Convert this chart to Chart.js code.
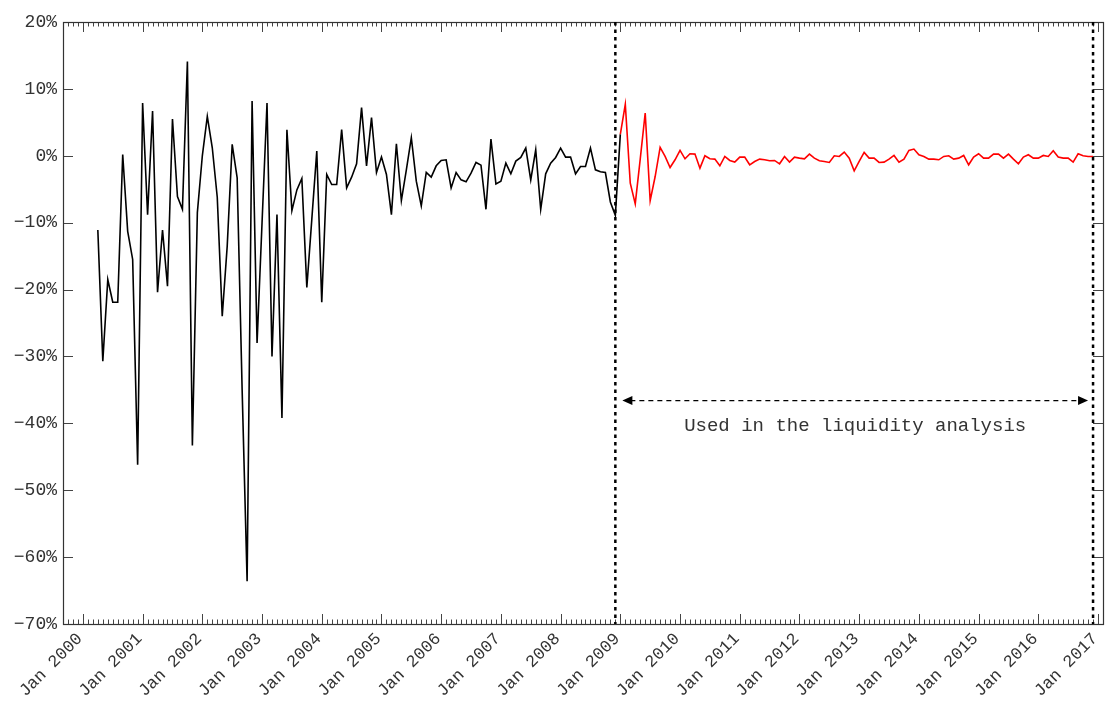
<!DOCTYPE html>
<html>
<head>
<meta charset="utf-8">
<style>
html, body { margin: 0; padding: 0; background: #fff; }
#wrap { width: 1105px; height: 701px; }
</style>
</head>
<body>
<div id="wrap"><canvas id="returnsChart" width="1105" height="701"></canvas></div>
<script src="https://cdn.jsdelivr.net/npm/chart.js@4.4.1/dist/chart.umd.min.js"></script>
<script>
// Months are counted from Jan 2000 (0 = Jan 2000)
const firstMonth = 3;

// monthly changes in %, first part (black)
const blackValues = [
    -11.1, -30.7, -18.5, -21.9, -21.9, 0.2, -11.3, -15.5, -46.2, 7.9,
    -8.8, 6.7, -20.4, -11.1, -19.5, 5.5, -6.1, -8.0, 14.1, -43.3,
    -8.5, 0.0, 5.9, 1.2, -6.2, -24.0, -13.5, 1.7, -3.3, -35.0,
    -63.6, 8.2, -28.0, -10.0, 7.9, -30.0, -8.8, -39.2, 3.9, -8.2,
    -5.1, -3.4, -19.7, -9.5, 0.7, -21.9, -2.8, -4.3, -4.3, 3.9,
    -4.8, -3.2, -1.2, 7.2, -1.5, 5.7, -2.5, -0.2, -2.8, -8.8,
    1.8, -6.7, -2.1, 2.7, -3.8, -7.5, -2.5, -3.2, -1.5, -0.7,
    -0.6, -4.8, -2.5, -3.6, -3.9, -2.6, -1.0, -1.4, -8.0, 2.5,
    -4.2, -3.8, -1.1, -2.7, -0.8, -0.25, 1.15, -3.6, 0.9, -8.0,
    -2.7, -1.1, -0.25, 1.15, -0.2, -0.2, -2.7, -1.6, -1.6, 1.15,
    -2.1, -2.4, -2.5, -6.9, -8.9, 3.2
];

// second part (red), starts at the last black point
const redOffset = 105;
const redValues = [
    3.2, 7.7, -4.1, -7.2, -0.5, 6.4, -6.7, -3.1, 1.25, -0.1,
    -1.75, -0.6, 0.8, -0.45, 0.3, 0.25, -1.85, 0, -0.45, -0.5,
    -1.5, -0.1, -0.7, -0.95, -0.2, -0.2, -1.35, -0.85, -0.5, -0.6,
    -0.75, -0.7, -1.2, -0.1, -0.95, -0.2, -0.35, -0.45, 0.25, -0.35,
    -0.75, -0.85, -1.0, 0, -0.1, 0.55, -0.35, -2.25, -0.85, 0.5,
    -0.35, -0.35, -1.0, -0.95, -0.5, 0.05, -0.95, -0.5, 0.8, 1.0,
    0.15, -0.1, -0.5, -0.5, -0.6, -0.1, 0, -0.5, -0.35, 0.05,
    -1.35, -0.2, 0.3, -0.35, -0.35, 0.25, 0.25, -0.35, 0.25, -0.5,
    -1.2, -0.2, 0.15, -0.35, -0.35, 0.05, -0.1, 0.75, -0.2, -0.35,
    -0.35, -0.95, 0.3, 0, -0.1, -0.1
];

// axis ticks
const yearTicks = [0, 12, 24, 36, 48, 60, 72, 84, 96, 108, 120, 132, 144, 156, 168, 180, 192, 204];
const yearLabels = ['Jan 2000', 'Jan 2001', 'Jan 2002', 'Jan 2003', 'Jan 2004', 'Jan 2005',
    'Jan 2006', 'Jan 2007', 'Jan 2008', 'Jan 2009', 'Jan 2010', 'Jan 2011', 'Jan 2012',
    'Jan 2013', 'Jan 2014', 'Jan 2015', 'Jan 2016', 'Jan 2017'];
const yTicks = [-70, -60, -50, -40, -30, -20, -10, 0, 10, 20];

// window used in the analysis (months) and its note
const markerMonths = [107, 203];
const arrowLevel = -36.6;
const noteLevel = -40.4;
const noteText = 'Used in the liquidity analysis';

// build points for the library
const blackPoints = blackValues.map((v, i) => ({ x: firstMonth + i, y: v }));
const redPoints = redValues.map((v, i) => ({ x: firstMonth + redOffset + i, y: v }));

const FONT = '"Liberation Mono", "Courier New", monospace';
Chart.defaults.font.family = FONT;
Chart.defaults.font.size = 18;
Chart.defaults.color = '#333';

// frame, inward ticks, dotted window lines and the arrow
const framePlugin = {
    id: 'frame',
    afterDraw(chart) {
        const ctx = chart.ctx;
        const a = chart.chartArea;
        const x = chart.scales.x;
        const y = chart.scales.y;
        ctx.save();

        // minor (monthly) and major (yearly) ticks on top and bottom
        ctx.strokeStyle = '#444';
        ctx.lineWidth = 1;
        ctx.beginPath();
        for (let m = Math.ceil(x.min); m <= x.max; m++) {
            const px = Math.round(x.getPixelForValue(m)) + 0.5;
            const len = (m % 12 === 0) ? 10 : 4.5;
            ctx.moveTo(px, a.bottom); ctx.lineTo(px, a.bottom - len);
            ctx.moveTo(px, a.top); ctx.lineTo(px, a.top + len);
        }
        yTicks.forEach(v => {
            const py = Math.round(y.getPixelForValue(v)) + 0.5;
            ctx.moveTo(a.left, py); ctx.lineTo(a.left + 10, py);
            ctx.moveTo(a.right, py); ctx.lineTo(a.right - 10, py);
        });
        ctx.stroke();

        // box
        ctx.strokeStyle = '#333';
        ctx.lineWidth = 1.2;
        ctx.strokeRect(Math.round(a.left) + 0.5, Math.round(a.top) + 0.5,
            Math.round(a.right - a.left), Math.round(a.bottom - a.top));

        // dotted vertical lines
        ctx.strokeStyle = '#000';
        ctx.lineWidth = 2.5;
        ctx.setLineDash([3.5, 4]);
        markerMonths.forEach(m => {
            const px = x.getPixelForValue(m);
            ctx.beginPath();
            ctx.moveTo(px, a.top);
            ctx.lineTo(px, a.bottom);
            ctx.stroke();
        });

        // double arrow
        const x1 = x.getPixelForValue(markerMonths[0]) + 7;
        const x2 = x.getPixelForValue(markerMonths[1]) - 5;
        const ay = y.getPixelForValue(arrowLevel);
        ctx.lineWidth = 1.3;
        ctx.setLineDash([5, 4]);
        ctx.beginPath();
        ctx.moveTo(x1 + 8, ay);
        ctx.lineTo(x2 - 8, ay);
        ctx.stroke();
        ctx.setLineDash([]);
        ctx.fillStyle = '#000';
        ctx.beginPath();
        ctx.moveTo(x1, ay); ctx.lineTo(x1 + 10, ay - 4.5); ctx.lineTo(x1 + 10, ay + 4.5);
        ctx.closePath(); ctx.fill();
        ctx.beginPath();
        ctx.moveTo(x2, ay); ctx.lineTo(x2 - 10, ay - 4.5); ctx.lineTo(x2 - 10, ay + 4.5);
        ctx.closePath(); ctx.fill();

        // note
        ctx.fillStyle = '#333';
        ctx.font = '19px ' + FONT;
        ctx.textAlign = 'center';
        ctx.textBaseline = 'middle';
        ctx.fillText(noteText, (x1 + x2) / 2, y.getPixelForValue(noteLevel));
        ctx.restore();
    }
};

const ctx = document.getElementById('returnsChart').getContext('2d');
const returnsChart = new Chart(ctx, {
    type: 'line',
    data: {
        datasets: [{
            data: blackPoints,
            borderColor: '#000',
            borderWidth: 1.6,
            pointRadius: 0,
            tension: 0
        }, {
            data: redPoints,
            borderColor: '#ff0000',
            borderWidth: 1.6,
            pointRadius: 0,
            tension: 0
        }]
    },
    options: {
        responsive: false,
        animation: false,
        layout: { padding: { top: 22, right: 2, left: 0, bottom: 0 } },
        plugins: { legend: { display: false }, tooltip: { enabled: false } },
        scales: {
            x: {
                type: 'linear',
                min: -4,
                max: 205,
                grid: { display: false, drawTicks: false },
                border: { display: false },
                afterBuildTicks: scale => { scale.ticks = yearTicks.map(v => ({ value: v })); },
                afterFit: scale => {
                    scale.height = 77;
                    scale.paddingLeft = 0;
                    scale.paddingRight = 0;
                },
                ticks: {
                    autoSkip: false,
                    maxRotation: 45,
                    minRotation: 45,
                    padding: 5,
                    labelOffset: -3,
                    color: '#333',
                    font: { size: 17 },
                    callback: (value, index) => yearLabels[index]
                }
            },
            y: {
                min: -70,
                max: 20,
                grid: { display: false, drawTicks: false },
                border: { display: false },
                afterBuildTicks: scale => { scale.ticks = yTicks.map(v => ({ value: v })); },
                afterFit: scale => {
                    scale.width = 63;
                    scale.paddingTop = 0;
                    scale.paddingBottom = 0;
                },
                ticks: {
                    padding: 6,
                    color: '#333',
                    callback: v => (v < 0 ? '\u2212' + Math.abs(v) : v) + '%'
                }
            }
        }
    },
    plugins: [framePlugin]
});
</script>
</body>
</html>
